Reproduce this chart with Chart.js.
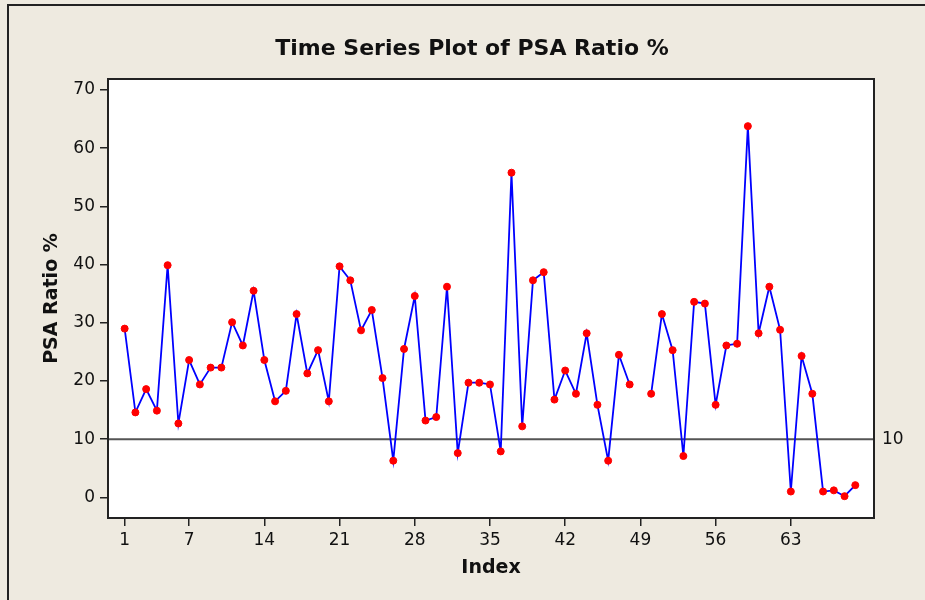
<!DOCTYPE html>
<html>
<head>
<meta charset="utf-8">
<script src="https://cdn.jsdelivr.net/npm/chart.js@4/dist/chart.umd.min.js"></script>
<style>
  body { margin: 0; background: #eeeae0; }
  canvas { display: block; }
</style>
</head>
<body>
<canvas id="psaChart" width="925" height="600"></canvas>
<script>
// index of each observation
const indexLabels = [1,2,3,4,5,6,7,8,9,10,11,12,13,14,15,16,17,18,19,20,
  21,22,23,24,25,26,27,28,29,30,31,32,33,34,35,36,37,38,39,40,
  41,42,43,44,45,46,47,48,49,50,51,52,53,54,55,56,57,58,59,60,
  61,62,63,64,65,66,67,68,69];

// PSA ratio % (49 is missing in the plot)
const psaRatio = [29.0,14.6,18.6,14.9,39.9,12.7,23.6,19.4,22.3,22.3,
  30.1,26.1,35.5,23.6,16.5,18.3,31.5,21.3,25.3,16.5,
  39.7,37.3,28.7,32.2,20.5,6.3,25.5,34.6,13.2,13.8,
  36.2,7.6,19.7,19.7,19.4,7.9,55.8,12.2,37.3,38.7,
  16.8,21.8,17.8,28.2,15.9,6.3,24.5,19.4,null,17.8,
  31.5,25.3,7.1,33.6,33.3,15.9,26.1,26.4,63.8,28.2,
  36.2,28.8,1.0,24.3,17.8,1.0,1.2,0.2,2.1];

const xTicks = [1,7,14,21,28,35,42,49,56,63];
const yTicks = [0,10,20,30,40,50,60,70];
const refLine = 10;

const FONT = '"DejaVu Sans", Verdana, sans-serif';

const points = indexLabels.map((x, i) => ({ x: x, y: psaRatio[i] }));

// background, frame, reference line and titles
const framePlugin = {
  id: 'frame',
  beforeDraw(chart) {
    const ctx = chart.ctx, a = chart.chartArea;
    ctx.save();
    ctx.fillStyle = '#eeeae0';
    ctx.fillRect(0, 0, chart.width, chart.height);
    ctx.strokeStyle = '#222';
    ctx.lineWidth = 2;
    ctx.beginPath();
    ctx.moveTo(8, chart.height);
    ctx.lineTo(8, 5);
    ctx.lineTo(chart.width, 5);
    ctx.stroke();
    ctx.fillStyle = '#ffffff';
    ctx.fillRect(a.left, a.top, a.right - a.left, a.bottom - a.top);
    ctx.restore();
  },
  beforeDatasetsDraw(chart) {
    const ctx = chart.ctx, a = chart.chartArea;
    const y = chart.scales.y.getPixelForValue(refLine);
    ctx.save();
    ctx.strokeStyle = '#555';
    ctx.lineWidth = 2;
    ctx.beginPath();
    ctx.moveTo(a.left, y);
    ctx.lineTo(a.right, y);
    ctx.stroke();
    ctx.restore();
  },
  afterDraw(chart) {
    const ctx = chart.ctx, a = chart.chartArea;
    ctx.save();
    ctx.strokeStyle = '#222';
    ctx.lineWidth = 2;
    ctx.strokeRect(a.left, a.top, a.right - a.left, a.bottom - a.top);

    ctx.fillStyle = '#111';
    ctx.textAlign = 'center';
    ctx.textBaseline = 'alphabetic';
    ctx.font = 'bold 22px ' + FONT;
    ctx.fillText('Time Series Plot of PSA Ratio %', 472, 55);

    ctx.font = 'bold 19px ' + FONT;
    ctx.fillText('Index', (a.left + a.right) / 2, 573);

    ctx.translate(57, (a.top + a.bottom) / 2);
    ctx.rotate(-Math.PI / 2);
    ctx.fillText('PSA Ratio %', 0, 0);
    ctx.restore();

    ctx.save();
    ctx.fillStyle = '#111';
    ctx.font = '17px ' + FONT;
    ctx.textAlign = 'left';
    ctx.textBaseline = 'middle';
    ctx.fillText(String(refLine), a.right + 8, chart.scales.y.getPixelForValue(refLine));
    ctx.restore();
  }
};

new Chart(document.getElementById('psaChart'), {
  type: 'line',
  data: {
    datasets: [{
      data: points,
      borderColor: '#0000ff',
      borderWidth: 1.8,
      pointBackgroundColor: '#ff0000',
      pointBorderColor: '#ff0000',
      pointBorderWidth: 1,
      pointRadius: 3.5,
      tension: 0,
      spanGaps: false
    }]
  },
  options: {
    responsive: false,
    animation: false,
    layout: { padding: { left: 0, top: 79, right: 51, bottom: 0 } },
    plugins: {
      legend: { display: false },
      tooltip: { enabled: false }
    },
    scales: {
      x: {
        type: 'linear',
        min: -0.55,
        max: 70.74,
        afterBuildTicks: s => { s.ticks = xTicks.map(v => ({ value: v })); },
        afterFit: s => { s.height = 82; },
        ticks: { color: '#111', font: { family: FONT, size: 17 }, padding: 4, maxRotation: 0, autoSkip: false },
        grid: { drawOnChartArea: false, tickLength: 8, color: '#222', lineWidth: 1.5 },
        border: { display: false }
      },
      y: {
        min: -3.55,
        max: 71.9,
        afterBuildTicks: s => { s.ticks = yTicks.map(v => ({ value: v })); },
        afterFit: s => { s.width = 108; },
        ticks: { color: '#111', font: { family: FONT, size: 17 }, padding: 5 },
        grid: { drawOnChartArea: false, tickLength: 8, color: '#222', lineWidth: 1.5 },
        border: { display: false }
      }
    }
  },
  plugins: [framePlugin]
});
</script>
</body>
</html>
